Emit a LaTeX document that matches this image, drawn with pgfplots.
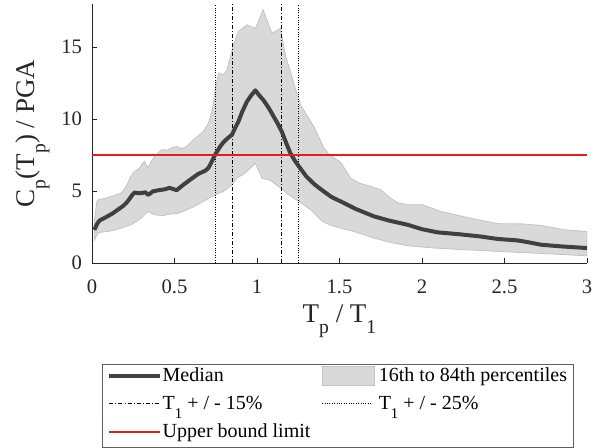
\documentclass[border=0pt]{standalone}
\usepackage{pgfplots}
\pgfplotsset{compat=1.18}
\usepackage{pgfplotstable}
\usepgfplotslibrary{fillbetween}
\usepackage{fontspec}
\setmainfont{Liberation Serif}
\definecolor{axgray}{RGB}{38,38,38}
\definecolor{medgray}{RGB}{64,64,64}
\definecolor{bandfill}{RGB}{217,217,217}
\definecolor{bandedge}{RGB}{195,195,195}
\definecolor{ubred}{RGB}{225,30,30}
\definecolor{leggray}{RGB}{95,95,95}
\newcommand{\lsub}[1]{\raisebox{-5.6pt}{\fontsize{9.8}{10}\selectfont #1}}
\newcommand{\gsub}[1]{\raisebox{-4.4pt}{\fontsize{7.4}{8}\selectfont #1}}
\pgfplotsset{
  lineleg/.style={legend image code/.code={\draw[##1] (0pt,2pt) -- (25pt,2pt);}},
  boxleg/.style={legend image code/.code={\draw[##1] (0pt,-2.75pt) rectangle (26pt,6.75pt);}},
}

\pgfplotstableread{
x y
0.014 2.3
0.03 2.7
0.045 2.95
0.07 3.1
0.095 3.25
0.125 3.45
0.156 3.7
0.187 3.95
0.21 4.2
0.227 4.45
0.245 4.75
0.258 4.9
0.28 4.85
0.298 4.85
0.323 4.92
0.339 4.74
0.355 4.85
0.369 4.98
0.4 5.05
0.44 5.12
0.47 5.22
0.49 5.15
0.513 5.06
0.554 5.44
0.594 5.78
0.645 6.2
0.686 6.41
0.705 6.6
0.716 6.83
0.746 7.52
0.777 8.1
0.797 8.4
0.825 8.7
0.848 8.91
0.868 9.4
0.888 9.85
0.91 10.5
0.939 11.22
0.965 11.65
0.99 12.0
1.01 11.7
1.04 11.3
1.07 10.8
1.10 10.2
1.125 9.7
1.15 9.14
1.175 8.4
1.202 7.64
1.23 7.1
1.254 6.71
1.3 6.0
1.35 5.45
1.405 4.97
1.45 4.6
1.507 4.28
1.6 3.75
1.709 3.24
1.8 2.95
1.912 2.66
2.0 2.35
2.095 2.13
2.216 2.01
2.35 1.85
2.46 1.67
2.58 1.57
2.65 1.43
2.723 1.27
2.85 1.15
3.0 1.04
}\mediandata

\pgfplotstableread{
x y
0.014 2.9
0.03 4.3
0.039 4.4
0.08 4.5
0.116 4.63
0.15 4.75
0.177 4.86
0.2 5.2
0.217 5.55
0.235 6.0
0.248 6.25
0.27 6.45
0.288 6.6
0.305 6.9
0.318 7.06
0.339 6.6
0.355 7.0
0.379 7.4
0.42 7.87
0.46 7.85
0.48 8.0
0.513 8.1
0.544 7.95
0.574 8.1
0.614 8.56
0.645 8.85
0.675 9.14
0.7 9.6
0.716 10.07
0.736 11.1
0.75 12.3
0.767 13.2
0.797 13.08
0.817 13.4
0.858 15.16
0.888 16.1
0.939 16.55
0.99 16.3
1.037 17.6
1.09 15.97
1.142 16.3
1.175 14.3
1.2 13.4
1.223 12.5
1.263 11.0
1.3 10.3
1.344 9.5
1.405 8.0
1.44 7.5
1.507 7.0
1.567 5.9
1.62 5.55
1.69 5.32
1.75 5.09
1.81 4.5
1.85 4.2
1.912 4.05
2.003 4.05
2.115 3.58
2.3 3.1
2.46 2.73
2.6 2.72
2.723 2.61
2.865 2.31
3.0 2.19
}\upperband

\pgfplotstableread{
x y
0.014 1.6
0.035 2.08
0.06 2.15
0.095 2.19
0.14 2.3
0.177 2.43
0.237 2.66
0.27 2.9
0.298 3.12
0.339 3.58
0.379 3.35
0.43 3.3
0.473 3.4
0.52 3.45
0.554 3.6
0.614 3.9
0.675 4.28
0.746 4.74
0.797 4.98
0.848 5.44
0.878 5.9
0.929 6.25
0.99 6.94
1.03 5.9
1.081 5.75
1.12 5.4
1.15 5.15
1.18 4.85
1.223 4.5
1.254 4.3
1.325 3.7
1.395 2.9
1.45 2.6
1.507 2.43
1.588 2.19
1.709 1.74
1.8 1.45
1.912 1.2
2.074 1.04
2.3 0.9
2.46 0.81
2.75 0.65
3.0 0.5
}\lowerband

\begin{document}
\begin{tikzpicture}
\begin{axis}[
  scale only axis, width=247.5pt, height=129.5pt,
  xmin=0, xmax=3, ymin=0, ymax=18,
  axis lines*=left,
  tick align=inside,
  major tick length=2.5pt,
  xtick={0,0.5,1,1.5,2,2.5,3}, ytick={0,5,10,15},
  axis line style={axgray, line width=0.5pt},
  tick style={axgray, line width=0.5pt},
  /pgf/number format/assume math mode=true,
  ticklabel style={font=\fontsize{10.3}{12}\selectfont, text=axgray},
  xticklabel style={yshift=-5pt},
  yticklabel style={xshift=-1.5pt},
  xlabel={T\lsub{p} / T\lsub{1}},
  ylabel={C\lsub{p}(T\lsub{p}) / PGA},
  label style={font=\fontsize{13.5}{16}\selectfont, text=axgray, inner sep=0pt},
  xlabel style={at={(axis description cs:0.5,-0.158)}, anchor=north},
  ylabel style={at={(axis description cs:-0.1556,0.5)}, anchor=north},
  legend columns=2,
  legend cell align=left,
  legend style={at={(axis description cs:0.0202,-0.3913)}, anchor=north west,
    draw=leggray, line width=0.5pt, font=\fontsize{10}{12}\selectfont,
    inner xsep=2.5pt, inner ysep=0.5pt, row sep=3.5pt,
    /tikz/every even column/.append style={column sep=5pt},
    /tikz/every odd column/.append style={column sep=0pt},
    nodes={text height=4.5pt, text depth=3pt, inner xsep=0.6pt, inner ysep=1.5pt}},
]
\coordinate (bl) at (rel axis cs:0,0);
\addlegendimage{medgray, line width=2pt, lineleg}
\addlegendimage{fill=bandfill, draw=bandedge, line width=0.4pt, boxleg}
\addlegendimage{black, line width=0.5pt, dash pattern=on 2pt off 1pt on 0.5pt off 1pt, lineleg}
\addlegendimage{black, line width=0.5pt, dash pattern=on 0.5pt off 0.7pt, lineleg}
\addlegendimage{ubred, line width=1pt, lineleg}

\addplot[name path=up, draw=none, forget plot] table {\upperband};
\addplot[name path=lo, draw=none, forget plot] table {\lowerband};
\addplot[fill=bandfill, draw=bandedge, line width=0.4pt, forget plot] fill between[of=up and lo];

\addplot[black, line width=0.5pt, dash pattern=on 0.5pt off 0.7pt, forget plot] coordinates {(0.75,0) (0.75,18)};
\addplot[black, line width=0.5pt, dash pattern=on 0.5pt off 0.7pt, forget plot] coordinates {(1.25,0) (1.25,18)};
\addplot[black, line width=0.5pt, dash pattern=on 2pt off 1pt on 0.5pt off 1pt, forget plot] coordinates {(0.85,0) (0.85,18)};
\addplot[black, line width=0.5pt, dash pattern=on 2pt off 1pt on 0.5pt off 1pt, forget plot] coordinates {(1.15,0) (1.15,18)};

\addplot[medgray, line width=2pt, line join=round, forget plot] table {\mediandata};
\addplot[ubred, line width=1pt, forget plot] coordinates {(0,7.5) (3,7.5)};

\legend{Median, \hspace{1.5pt}16th to 84th percentiles\hspace{16pt}, T\gsub{1} + / - 15\%, \hspace{1.5pt}T\gsub{1} + / - 25\%, Upper bound limit}
\end{axis}
\pgfresetboundingbox
\path[use as bounding box] (bl) ++(-46pt,-92pt) rectangle ++(302pt,223.5pt);
\end{tikzpicture}
\end{document}
